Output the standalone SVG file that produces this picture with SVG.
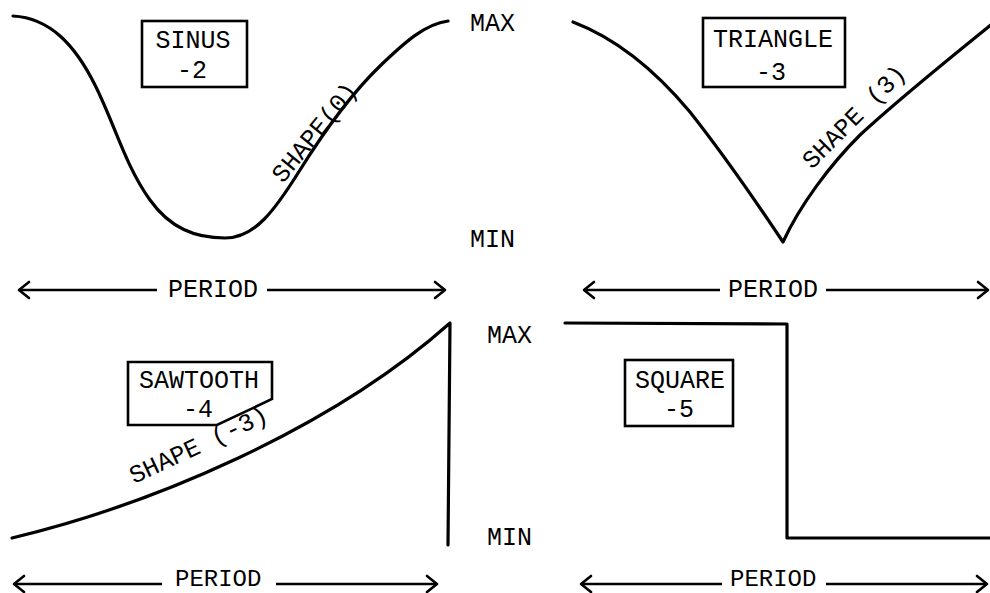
<svg xmlns="http://www.w3.org/2000/svg" width="990" height="593" viewBox="0 0 990 593">
  <defs>
    <style>
      .t { font-family: "Liberation Mono", "DejaVu Sans Mono", monospace; font-size: 25px; fill: #000; }
      .c { text-anchor: middle; }
      .low { font-size: 24px; }
      .wave { fill: none; stroke: #000; stroke-width: 3.2; stroke-linecap: round; stroke-linejoin: round; }
      .box { fill: #fff; stroke: #000; stroke-width: 2.6; }
      .arr { fill: none; stroke: #000; stroke-width: 2.4; }
    </style>
    <marker id="head" viewBox="-12 -10 14 20" markerWidth="14" markerHeight="20" refX="0" refY="0" orient="auto-start-reverse" markerUnits="userSpaceOnUse">
      <path d="M-10,-8 L0,0 L-10,8" fill="none" stroke="#000" stroke-width="2.6" stroke-linecap="round" stroke-linejoin="round"/>
    </marker>
  </defs>
  <rect width="990" height="593" fill="#fff"/>

  <!-- amplitude limits -->
  <g id="limits">
    <text class="t" x="470" y="31">MAX</text>
    <text class="t" x="470" y="247">MIN</text>
    <text class="t" x="487" y="343">MAX</text>
    <text class="t" x="487" y="545">MIN</text>
  </g>

  <!-- sine wave -->
  <g id="sinus">
    <path class="wave" d="M13,16 C50,18 75,45 95,85 C115,125 125,165 150,200 C170,228 195,238 225,238 C255,238 275,210 300,170 C325,130 350,95 380,66 C405,42 425,24 448,21"/>
    <rect class="box" x="142" y="21" width="105" height="66"/>
    <text class="t c" x="193" y="48">SINUS</text>
    <text class="t c" x="192" y="78">-2</text>
    <text class="t" x="283" y="184" transform="rotate(-51 283 184)">SHAPE(0)</text>
  </g>

  <!-- triangle wave -->
  <g id="triangle">
    <path class="wave" d="M573,22 C615,38 655,70 690,112 C720,150 755,200 783,242 C800,205 830,165 860,135 C900,98 950,58 992,24"/>
    <rect class="box" x="703" y="18" width="142" height="69"/>
    <text class="t c" x="773" y="47">TRIANGLE</text>
    <text class="t c" x="771" y="80">-3</text>
    <text class="t" x="812" y="170" transform="rotate(-45 812 170)">SHAPE (3)</text>
  </g>

  <!-- sawtooth wave -->
  <g id="sawtooth">
    <path class="wave" d="M12,538 C150,505 330,430 450,323 L448,545"/>
    <polygon class="box" points="128,362 272,362 272,399 217,425 128,425"/>
    <text class="t c" x="199" y="388">SAWTOOTH</text>
    <text class="t c" x="198" y="417">-4</text>
    <text class="t" x="134" y="484" transform="rotate(-25 134 484)">SHAPE (-3)</text>
  </g>

  <!-- square wave -->
  <g id="square">
    <path class="wave" d="M565,323 L787,324 L787,538 L990,538"/>
    <rect class="box" x="625" y="360" width="108" height="66"/>
    <text class="t c" x="680" y="388">SQUARE</text>
    <text class="t c" x="679" y="417">-5</text>
  </g>

  <!-- period dimension arrows -->
  <g id="connectors">
    <line class="arr" x1="157" y1="290" x2="19" y2="290" marker-end="url(#head)"/>
    <line class="arr" x1="267" y1="290" x2="445" y2="290" marker-end="url(#head)"/>
    <line class="arr" x1="720" y1="290" x2="584" y2="290" marker-end="url(#head)"/>
    <line class="arr" x1="826" y1="290" x2="988" y2="290" marker-end="url(#head)"/>
    <line class="arr" x1="162" y1="584" x2="14" y2="584" marker-end="url(#head)"/>
    <line class="arr" x1="276" y1="584" x2="437" y2="584" marker-end="url(#head)"/>
    <line class="arr" x1="722" y1="584" x2="581" y2="584" marker-end="url(#head)"/>
    <line class="arr" x1="826" y1="584" x2="987" y2="584" marker-end="url(#head)"/>
  </g>
  <g id="period-labels">
    <text class="t" x="168" y="297">PERIOD</text>
    <text class="t" x="728" y="297">PERIOD</text>
    <text class="t low" x="175" y="585.5">PERIOD</text>
    <text class="t low" x="730" y="585.5">PERIOD</text>
  </g>
</svg>
